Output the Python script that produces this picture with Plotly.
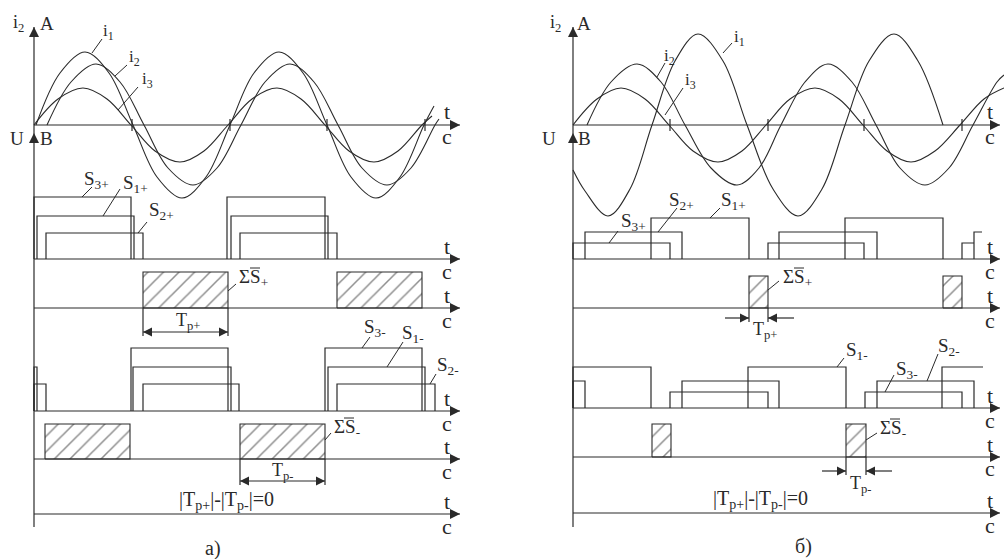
import plotly.graph_objects as go

# ---------------- data ----------------
# time: drawing units counted from each panel's vertical axis
# values: drawing units above the baseline of the row they sit on

# panel a) phase currents i1, i2, i3
a_i1_t = [2, 26, 51, 75, 99, 123, 148, 172, 196, 220, 245, 269, 293, 317, 342, 366, 390, 400]
a_i1_v = [0, 52, 73, 52, 0, -52, -73, -52, 0, 52, 73, 52, 0, -52, -73, -52, 0, 19]
a_i2_t = [13, 37, 62, 86, 110, 134, 159, 183, 207, 231, 256, 280, 304, 328, 353, 377, 401, 405]
a_i2_v = [0, 43, 61, 43, 0, -43, -60, -43, 0, 43, 61, 43, 0, -43, -60, -43, 0, 6]
a_i3_t = [0, 24, 49, 73, 97, 121, 146, 170, 194, 218, 243, 267, 291, 315, 340, 364, 388, 398]
a_i3_v = [0, 26, 37, 26, 0, -26, -37, -26, 0, 26, 37, 26, 0, -26, -37, -26, 0, 9]
a_zero_ticks = [98, 196, 293, 391]

# panel a) switching signals [on, off]
a_s3p = [[0, 97], [193, 291]]
a_s1p = [[3, 100], [197, 294]]
a_s2p = [[12, 109], [206, 303]]
a_sum_p = [[109, 194], [303, 388]]
a_s3m = [[97, 194], [291, 388]]
a_s1m = [[0, 3], [99, 197], [294, 391]]
a_s2m = [[0, 12], [109, 205], [303, 401]]
a_sum_m = [[11, 96], [206, 291]]
a_levels_p = {"s3": 62, "s1": 43, "s2": 26, "sum": 36}
a_levels_m = {"s3": 63, "s1": 44, "s2": 27, "sum": 35}
a_tp_p = [109, 194]
a_tp_m = [206, 291]

# panel б) phase currents
b_i1_t = [0, 12, 35, 57, 79, 102, 125, 150, 174, 200, 225, 249, 272, 296, 321, 345, 370]
b_i1_v = [-45, -66, -91, -64, 0, 64, 91, 64, 0, -64, -91, -64, 0, 64, 91, 64, 0]
b_i2_t = [14, 38, 64, 88, 112, 138, 164, 186, 208, 232, 255, 279, 303, 327, 352, 376, 400, 424, 431]
b_i2_v = [0, 43, 61, 43, 0, -43, -60, -43, 0, 43, 61, 43, 0, -43, -60, -43, 0, 43, 50]
b_i3_t = [0, 24, 48, 72, 96, 120, 145, 169, 193, 217, 242, 266, 290, 314, 338, 362, 387, 411, 431]
b_i3_v = [0, 26, 37, 26, 0, -26, -37, -26, 0, 26, 37, 26, 0, -26, -37, -26, 0, 26, 37]
b_zero_ticks = [97, 195, 291, 389]

# panel б) switching signals [on, off, closed(1)/cut(0)]
b_s1p = [[78, 176, 1], [272, 370, 1]]
b_s2p = [[12, 109, 1], [206, 304, 1], [401, 409, 0]]
b_s3p = [[0, 97, 1], [195, 291, 1], [389, 401, 0]]
b_sum_p = [[176, 195], [370, 389]]
b_s1m = [[0, 78, 1], [175, 273, 1], [369, 410, 0]]
b_s2m = [[0, 12, 1], [109, 206, 1], [304, 401, 1]]
b_s3m = [[97, 195, 1], [292, 389, 1]]
b_sum_m = [[79, 98], [273, 293]]
b_levels_p = {"s1": 41, "s2": 27, "s3": 16, "sum": 32}
b_levels_m = {"s1": 41, "s2": 27, "s3": 16, "sum": 33}
b_tp_p = [176, 195]
b_tp_m = [273, 293]

# ---------------- layout constants (page pixels) ----------------
W, H = 1004, 559
FONT = "Liberation Serif"
INK = "#2a2a2a"
A_X0, B_X0 = 34, 573
A_XEND, B_XEND = 460, 1000
A_BASES = [125, 259, 308, 411, 459, 514]
B_BASES = [125, 259, 308, 408, 457, 513]
AXIS_TOP, AXIS_BOTTOM, U_ARROW = 27, 527, 133

fig = go.Figure()
yaxes = {}


def yax(base):
    if base not in yaxes:
        yaxes[base] = len(yaxes) + 1
    n = yaxes[base]
    return "y" if n == 1 else f"y{n}"


segs = {}


def seg(xr, yr, xs, ys):
    X, Y = segs.setdefault((xr, yr), ([], []))
    X.extend(list(xs) + [None])
    Y.extend(list(ys) + [None])


arrows = []


def arrow(xr, yr, x, y, sym, size=10):
    arrows.append((xr, yr, x, y, sym, size))


def pulses(xr, yr, spans, level):
    for p in spans:
        t0, t1 = p[0], p[1]
        closed = len(p) < 3 or p[2]
        xs = [t0, t0, t1] + ([t1] if closed else [])
        ys = [0, level, level] + ([0] if closed else [])
        seg(xr, yr, xs, ys)


def hatched(xr, yr, spans, level):
    for t0, t1 in spans:
        fig.add_trace(go.Scatter(
            x=[t0, t1, t1, t0, t0], y=[0, 0, level, level, 0],
            xaxis=xr, yaxis=yr, mode="lines", fill="toself",
            fillpattern=dict(shape="/", size=11, solidity=0.14, fgcolor="#1e1e1e", bgcolor="white"),
            line=dict(color=INK, width=1.1), hoverinfo="skip", showlegend=False))


def curve(xr, yr, t, v):
    fig.add_trace(go.Scatter(
        x=t, y=v, xaxis=xr, yaxis=yr, mode="lines",
        line=dict(color=INK, width=1.1, shape="spline", smoothing=1.0),
        hoverinfo="skip", showlegend=False))


def panel(xr, x0, xend, bases, currents, ticks, sp, sm, sum_p, sum_m, lp, lm, tp_p, tp_m, inner_dims):
    tip = xend - x0
    y0 = yax(bases[0])
    # vertical axis
    seg(xr, y0, [0, 0], [bases[0] - AXIS_BOTTOM, bases[0] - AXIS_TOP])
    arrow(xr, y0, 0, bases[0] - AXIS_TOP, "arrow-up")
    arrow(xr, y0, 0, bases[0] - U_ARROW, "arrow-up")
    # time axes
    for b in bases:
        yr = yax(b)
        seg(xr, yr, [0, tip], [0, 0])
        arrow(xr, yr, tip, 0, "arrow-right")
    for t in ticks:
        seg(xr, y0, [t, t], [-6, 6])
    for t, v in currents:
        curve(xr, y0, t, v)
    for name, spans in sp.items():
        pulses(xr, yax(bases[1]), spans, lp[name])
    for name, spans in sm.items():
        pulses(xr, yax(bases[3]), spans, lm[name])
    hatched(xr, yax(bases[2]), sum_p, lp["sum"])
    hatched(xr, yax(bases[4]), sum_m, lm["sum"])
    # dimension arrows Tp+ / Tp-
    for (t0, t1), yr, depth in ((tp_p, yax(bases[2]), inner_dims[0]), (tp_m, yax(bases[4]), inner_dims[1])):
        seg(xr, yr, [t0, t0], [0, -depth - 4])
        seg(xr, yr, [t1, t1], [0, -depth - 4])
        if inner_dims[2]:
            seg(xr, yr, [t0, t1], [-depth, -depth])
            arrow(xr, yr, t0, -depth, "arrow-left", 9)
            arrow(xr, yr, t1, -depth, "arrow-right", 9)
        else:
            seg(xr, yr, [t0 - 24, t0], [-depth, -depth])
            seg(xr, yr, [t1, t1 + 26], [-depth, -depth])
            arrow(xr, yr, t0, -depth, "arrow-right", 9)
            arrow(xr, yr, t1, -depth, "arrow-left", 9)


panel("x", A_X0, A_XEND, A_BASES,
      [(a_i1_t, a_i1_v), (a_i2_t, a_i2_v), (a_i3_t, a_i3_v)], a_zero_ticks,
      {"s3": a_s3p, "s1": a_s1p, "s2": a_s2p}, {"s3": a_s3m, "s1": a_s1m, "s2": a_s2m},
      a_sum_p, a_sum_m, a_levels_p, a_levels_m, a_tp_p, a_tp_m, (24, 22, True))
panel("x2", B_X0, B_XEND, B_BASES,
      [(b_i1_t, b_i1_v), (b_i2_t, b_i2_v), (b_i3_t, b_i3_v)], b_zero_ticks,
      {"s1": b_s1p, "s2": b_s2p, "s3": b_s3p}, {"s1": b_s1m, "s2": b_s2m, "s3": b_s3m},
      b_sum_p, b_sum_m, b_levels_p, b_levels_m, b_tp_p, b_tp_m, (10, 14, False))

for (xr, yr), (X, Y) in segs.items():
    fig.add_trace(go.Scatter(x=X, y=Y, xaxis=xr, yaxis=yr, mode="lines",
                             line=dict(color=INK, width=1.2), hoverinfo="skip", showlegend=False))
for xr, yr, x, y, sym, size in arrows:
    fig.add_trace(go.Scatter(x=[x], y=[y], xaxis=xr, yaxis=yr, mode="markers",
                             marker=dict(symbol=sym, size=size, color=INK, line=dict(width=0)),
                             hoverinfo="skip", showlegend=False))

# ---------------- labels (page pixels) ----------------
labels = [
    # panel a)
    ("i<sub>2</sub>", 18, 24, 18), ("A", 47, 24, 19), ("U", 17, 139, 19), ("B", 46, 139, 19),
    ("i<sub>1</sub>", 108, 32, 17), ("i<sub>2</sub>", 134, 58, 17), ("i<sub>3</sub>", 147, 80, 17),
    ("S<sub>3+</sub>", 96, 180, 19), ("S<sub>1+</sub>", 135, 184, 19), ("S<sub>2+</sub>", 161, 211, 19),
    ("ΣS<sub>+</sub>", 253, 278, 19), ("T<sub>p+</sub>", 188, 321, 18),
    ("S<sub>3-</sub>", 375, 328, 19), ("S<sub>1-</sub>", 413, 334, 19), ("S<sub>2-</sub>", 448, 366, 19),
    ("ΣS<sub>-</sub>", 347, 428, 19), ("T<sub>p-</sub>", 283, 471, 18),
    ("|T<sub>p+</sub>|-|T<sub>p-</sub>|=0", 226, 500, 20), ("а)", 213, 548, 20),
    # panel б)
    ("i<sub>2</sub>", 555, 24, 18), ("A", 584, 24, 19), ("U", 549, 139, 19), ("B", 584, 139, 19),
    ("i<sub>1</sub>", 739, 38, 17), ("i<sub>2</sub>", 669, 57, 17), ("i<sub>3</sub>", 690, 81, 17),
    ("S<sub>3+</sub>", 633, 222, 19), ("S<sub>2+</sub>", 681, 201, 19), ("S<sub>1+</sub>", 733, 201, 19),
    ("ΣS<sub>+</sub>", 797, 278, 19), ("T<sub>p+</sub>", 765, 330, 18),
    ("S<sub>1-</sub>", 857, 351, 19), ("S<sub>3-</sub>", 907, 370, 19), ("S<sub>2-</sub>", 949, 347, 19),
    ("ΣS<sub>-</sub>", 893, 429, 19), ("T<sub>p-</sub>", 861, 484, 18),
    ("|T<sub>p+</sub>|-|T<sub>p-</sub>|=0", 760, 499, 20), ("б)", 803, 546, 20),
]
for xend, bases in ((447, A_BASES), (990, B_BASES)):
    for b in bases:
        labels.append(("t", xend, b - 13, 22))
        labels.append(("c", xend, b + 12, 22))

leaders = [
    (102, 39, 92, 53), (127, 65, 115, 76), (138, 87, 118, 110),
    (92, 187, 82, 197), (120, 189, 103, 216), (147, 222, 138, 233),
    (236, 284, 228, 291), (370, 337, 362, 348), (403, 342, 387, 367), (436, 374, 430, 384),
    (331, 433, 325, 440),
    (732, 43, 723, 53), (665, 63, 657, 77), (683, 88, 665, 115),
    (618, 231, 609, 243), (677, 208, 658, 232), (720, 208, 710, 218),
    (779, 281, 768, 290), (844, 358, 837, 367), (894, 375, 885, 392), (938, 354, 927, 381),
    (877, 433, 866, 440),
]
# overlines of ΣS
overlines = [(250, 260, 268), (794, 804, 268), (344, 354, 418), (890, 900, 419)]

annotations = [dict(text=t, x=x / W, y=1 - y / H, xref="paper", yref="paper", showarrow=False,
                    xanchor="center", yanchor="middle", font=dict(family=FONT, size=s, color=INK))
               for t, x, y, s in labels]
shapes = [dict(type="line", xref="paper", yref="paper", x0=x0 / W, y0=1 - y0 / H, x1=x1 / W, y1=1 - y1 / H,
               line=dict(color=INK, width=1)) for x0, y0, x1, y1 in leaders]
shapes += [dict(type="line", xref="paper", yref="paper", x0=x0 / W, y0=1 - y / H, x1=x1 / W, y1=1 - y / H,
                line=dict(color=INK, width=1)) for x0, x1, y in overlines]

axes = {
    "xaxis": dict(range=[-A_X0, W - A_X0], domain=[0, 1], visible=False, fixedrange=True, anchor="y"),
    "xaxis2": dict(range=[-B_X0, W - B_X0], domain=[0, 1], visible=False, fixedrange=True,
                   overlaying="x", anchor="y"),
}
for base, n in yaxes.items():
    d = dict(range=[base - H, base], domain=[0, 1], visible=False, fixedrange=True, anchor="x")
    if n > 1:
        d["overlaying"] = "y"
    axes["yaxis" if n == 1 else f"yaxis{n}"] = d

fig.update_layout(
    width=W, height=H, margin=dict(l=0, r=0, t=0, b=0),
    plot_bgcolor="white", paper_bgcolor="white", showlegend=False,
    annotations=annotations, shapes=shapes, **axes,
)

fig.write_html("out.html", config={"displayModeBar": False},
               post_script="document.body.style.margin='0';document.body.style.overflow='hidden';")
